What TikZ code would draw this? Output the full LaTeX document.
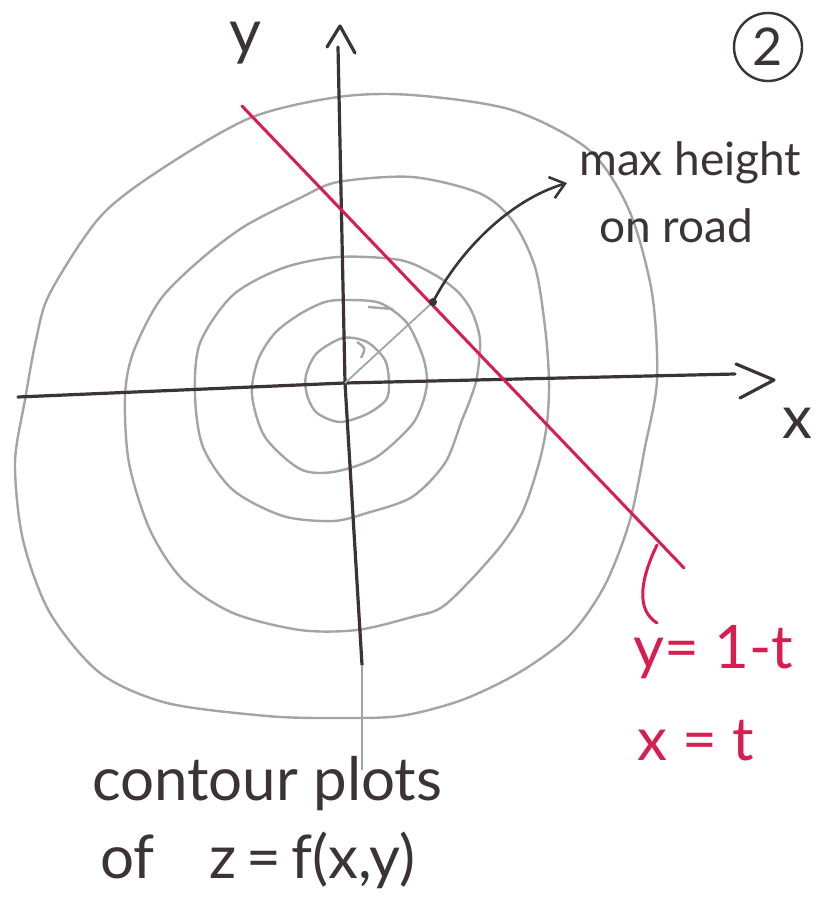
\documentclass[tikz,border=0pt]{standalone}
\usepackage{fontspec}
\setmainfont{Lato}
\usetikzlibrary{arrows.meta}

\definecolor{ink}{HTML}{3B3337}
\definecolor{contourgray}{HTML}{A4A4A4}
\definecolor{roadred}{HTML}{D81E50}

\begin{document}
\begin{tikzpicture}[
  x=1pt, y=-1pt,
  every node/.style={inner sep=0pt, text=ink, font=\fontsize{60}{78}\selectfont},
  contour/.style={contourgray, line width=2.4pt},
  axis/.style={ink, line width=3.2pt, line cap=round, line join=round},
  road/.style={roadred, line width=3pt, line cap=round},
  redtext/.style={text=roadred}
]
\useasboundingbox (0,0) rectangle (824,909);

% ============================================================
% Contour plots (outermost first)
% ============================================================
\draw[contour] plot[smooth cycle] coordinates {
  (338,97) (412,95) (512,110) (589,150) (629,210) (652,293) (657,380)
  (645,447) (630,520) (605,585) (570,635) (520,672) (462,700) (400,716)
  (333,718) (267,716) (167,703) (100,673) (50,613) (23,540) (15,463)
  (25,400) (36,340) (50,293) (100,217) (160,170) (250,118)};
\draw[contour] plot[smooth cycle] coordinates {
  (338,182) (412,177) (479,193) (512,220) (535,267) (545,327) (549,380)
  (547,423) (539,463) (522,513) (495,553) (445,605) (412,617) (357,630)
  (300,630) (233,613) (183,580) (150,530) (129,463) (125,397) (133,353)
  (160,300) (200,260) (245,226) (300,198)};
\draw[contour] plot[smooth cycle] coordinates {
  (338,257) (400,260) (435,275) (458,292) (472,312) (480,340) (477,377)
  (470,400) (462,420) (445,463) (412,497) (367,513) (333,521) (283,516)
  (233,490) (203,447) (195,395) (200,343) (233,295) (283,268)};
\draw[contour] plot[smooth cycle] coordinates {
  (347,300) (380,303) (407,323) (423,357) (427,382) (422,405) (410,427)
  (375,458) (333,472) (300,469) (265,437) (252,395) (258,360) (275,333)
  (300,314) (325,302)};
\draw[contour] plot[smooth cycle] coordinates {
  (343,338) (367,342) (385,360) (389,383) (386,400) (367,414) (340,422)
  (317,413) (307,395) (306,375) (317,353)};
\draw[contour] (357,342) .. controls (366,348) .. (361,358);
\draw[contour] (368,307) -- (393,309);

% ============================================================
% Axes
% ============================================================
\coordinate (O) at (345,383);
\coordinate (xl) at (18,397);
\coordinate (xr) at (735,374);
\coordinate (xtip) at (774,380);
\coordinate (yt) at (338,47);
\coordinate (ytip) at (340,26);
\coordinate (yb) at (362,665);
\coordinate (yfade) at (362,770);

\draw[axis] (xl) -- (O) -- (xr);
\draw[axis] (736,364) -- (xtip) -- (740,398);
\draw[axis] (yt) -- (O) -- (yb);
\draw[axis] (327,47) -- (ytip) -- (355,53);
\draw[contour] (yb) -- (yfade);

\node (xlbl) at (797,423) {x};
\node[anchor=base, font=\fontsize{62}{72}\selectfont] (ylbl) at (245,54) {y};

% ============================================================
% Road and max height on it
% ============================================================
\coordinate (roadA) at (242,106);
\coordinate (roadB) at (684,568);
\coordinate (M) at (433,302);
\coordinate (note) at (567,183);

\draw[contour, line width=1.8pt] (O) -- (M);
\draw[road] (roadA) -- (roadB);
\draw[road] (657,545) .. controls (640,580) and (636,610) .. (657,623);
\fill[ink] (M) circle (4pt);

\draw[axis, line width=2.6pt, -{Straight Barb[length=14pt, width=22pt]}]
  (M) .. controls (460,250) and (510,200) .. (note);

\node[anchor=base west, font=\fontsize{46}{54}\selectfont] (maxlbl) at (579,176) {max height};
\node[anchor=base west, font=\fontsize{46}{54}\selectfont] (roadlbl) at (599,242) {on road};

\node[anchor=base west, redtext] (ylaw) at (633,668) {y= 1-t};
\node[anchor=base west, redtext] (xlaw) at (637,760) {x = t};

% ============================================================
% Caption and sheet number
% ============================================================
\node[anchor=base west] (cap1) at (92,800) {contour plots};
\node[anchor=base west] (cap2) at (100,878) {of\hspace{55pt}z\,=\,f(x,y)};

\node[draw=ink, circle, line width=2.4pt, minimum size=68pt,
      font=\fontsize{52}{60}\selectfont] (num) at (768,47) {2};

\end{tikzpicture}
\end{document}
